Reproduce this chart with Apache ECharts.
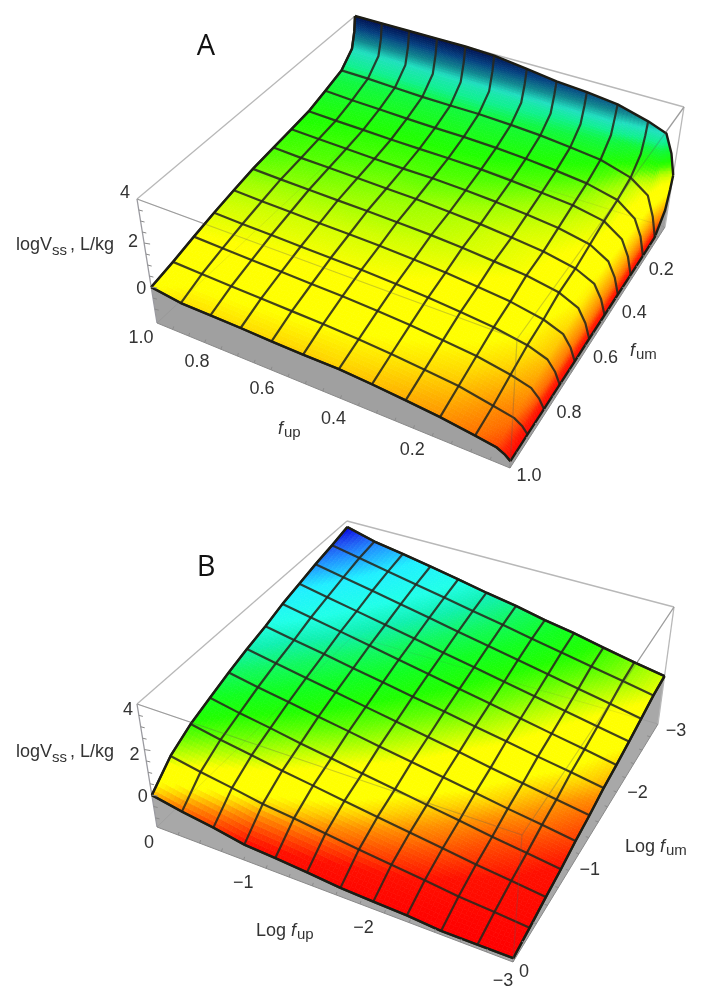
<!DOCTYPE html>
<html>
<head>
<meta charset="utf-8">
<style>
  html, body { margin: 0; padding: 0; background: #fff; }
  #chart { width: 704px; height: 1006px; }
</style>
</head>
<body>
<div id="chart"></div>
<script src="https://cdn.jsdelivr.net/npm/echarts@6/dist/echarts.min.js"></script>
<script>
// panel A: fup / fum grid, mesh is 11 cells, a few extra nodes for the steep edges
const fupA = [1, 0.91, 0.82, 0.73, 0.64, 0.55, 0.45, 0.36, 0.27, 0.18, 0.09, 0.036, 0.014, 0]
const fumA = [1, 0.91, 0.82, 0.73, 0.64, 0.55, 0.45, 0.36, 0.27, 0.18, 0.09, 0.027, 0.009, 0]
const meshColsA = [0, 1, 2, 3, 4, 5, 6, 7, 8, 9, 10]
const meshRowsA = [0, 1, 2, 3, 4, 5, 6, 7, 8, 9, 10]
// logVss, one row per fum, one column per fup
const logVssA = [
  [0, -0.2, -0.22, -0.25, -0.3, -0.33, -0.33, -0.42, -0.53, -0.66, -0.85, -0.98, -1.15, -1.33],
  [0.22, 0.17, 0.13, 0.1, 0.06, 0.02, -0.05, -0.14, -0.26, -0.4, -0.67, -0.84, -1.06, -1.32],
  [0.48, 0.43, 0.39, 0.36, 0.32, 0.29, 0.22, 0.13, 0.01, -0.13, -0.39, -0.62, -0.95, -1.32],
  [0.72, 0.67, 0.64, 0.6, 0.57, 0.54, 0.47, 0.38, 0.27, 0.13, -0.12, -0.42, -0.84, -1.31],
  [0.92, 0.87, 0.83, 0.79, 0.76, 0.72, 0.65, 0.56, 0.43, 0.29, 0.02, -0.31, -0.78, -1.31],
  [1.11, 1.06, 1.03, 0.99, 0.96, 0.92, 0.86, 0.77, 0.65, 0.52, 0.26, -0.13, -0.68, -1.3],
  [1.24, 1.18, 1.15, 1.11, 1.07, 1.04, 0.96, 0.87, 0.74, 0.59, 0.31, -0.09, -0.66, -1.3],
  [1.35, 1.3, 1.26, 1.22, 1.19, 1.18, 1.12, 1.04, 0.92, 0.78, 0.5, 0.02, -0.59, -1.3],
  [1.47, 1.42, 1.39, 1.35, 1.33, 1.32, 1.28, 1.2, 1.09, 0.97, 0.7, 0.15, -0.52, -1.3],
  [1.73, 1.67, 1.63, 1.59, 1.56, 1.55, 1.5, 1.42, 1.3, 1.15, 0.83, 0.23, -0.47, -1.3],
  [2.02, 2, 1.95, 1.9, 1.88, 1.88, 1.82, 1.74, 1.6, 1.45, 1.05, 0.48, -0.4, -1.28],
  [2.6, 2.6, 2.55, 2.5, 2.5, 2.45, 2.35, 2.25, 2.15, 2.05, 1.6, 1.4, 0.3, -0.6],
  [3.3, 3.3, 3.3, 3.3, 3.3, 3.25, 3.1, 3, 2.9, 2.8, 2.3, 2.2, 1.3, 0.2],
  [4, 4, 4, 4, 4, 3.95, 3.75, 3.55, 3.45, 3.28, 2.9, 2.59, 1.75, 0.8]
]

// panel B: log fup / log fum grid
const logFupB = [0, -0.27, -0.55, -0.82, -1.09, -1.36, -1.64, -1.91, -2.18, -2.45, -2.73, -3]
const logFumB = [0, -0.27, -0.55, -0.82, -1.09, -1.36, -1.64, -1.91, -2.18, -2.45, -2.73, -3]
const meshColsB = [0, 1, 2, 3, 4, 5, 6, 7, 8, 9, 10, 11]
const meshRowsB = [0, 1, 2, 3, 4, 5, 6, 7, 8, 9, 10, 11]
const logVssB = [
  [0, -0.25, -0.45, -0.7, -0.78, -0.89, -1.02, -1.08, -1.13, -1.24, -1.24, -1.24],
  [0.83, 0.58, 0.36, 0.13, -0.02, -0.19, -0.37, -0.51, -0.66, -0.83, -0.94, -1.06],
  [1.35, 1.09, 0.87, 0.64, 0.45, 0.25, 0.05, -0.14, -0.32, -0.52, -0.68, -0.85],
  [1.69, 1.43, 1.21, 0.97, 0.76, 0.54, 0.33, 0.12, -0.08, -0.3, -0.48, -0.68],
  [2.02, 1.77, 1.54, 1.31, 1.09, 0.86, 0.64, 0.42, 0.2, -0.02, -0.23, -0.44],
  [2.31, 2.06, 1.82, 1.59, 1.35, 1.12, 0.88, 0.65, 0.41, 0.18, -0.05, -0.27],
  [2.56, 2.32, 2.09, 1.85, 1.62, 1.38, 1.15, 0.91, 0.68, 0.44, 0.21, -0.03],
  [2.86, 2.61, 2.36, 2.11, 1.86, 1.61, 1.36, 1.11, 0.86, 0.61, 0.36, 0.11],
  [3.08, 2.83, 2.57, 2.32, 2.07, 1.81, 1.56, 1.3, 1.05, 0.8, 0.54, 0.29],
  [3.31, 3.05, 2.8, 2.54, 2.29, 2.03, 1.77, 1.52, 1.26, 1, 0.75, 0.49],
  [3.5, 3.25, 2.99, 2.74, 2.49, 2.23, 1.98, 1.72, 1.47, 1.22, 0.96, 0.71],
  [3.72, 3.37, 3.14, 2.9, 2.65, 2.38, 2.14, 1.85, 1.62, 1.33, 1.05, 0.81]
]

// tick labels
const zTicks = [4, 2, 0]
const fupTicksA = [1.0, 0.8, 0.6, 0.4, 0.2]
const fumTicksA = [1.0, 0.8, 0.6, 0.4, 0.2]
const fupTicksB = [0, -1, -2, -3]
const fumTicksB = [0, -1, -2, -3]

// colour by height
const colorZA = [-1.33, -1.1, -0.85, -0.5, -0.25, 0, 0.5, 0.8, 1, 1.2, 1.4, 1.9, 2.2, 2.6, 3, 3.5, 4]
const colorsA = ['#ff0000', '#ff2000', '#ff7000', '#ffb000', '#ffdc00', '#ffff00', '#ffff00', '#d0ff00', '#a0ff00', '#50ff00', '#20ff00', '#10f840', '#10f090', '#20e0c0', '#108890', '#054080', '#001050']
const colorZB = [-1.24, -0.65, -0.35, -0.1, 0.08, 0.25, 0.65, 0.9, 1.15, 1.4, 1.7, 2.02, 2.31, 2.6, 3, 3.31, 3.5, 3.72]
const colorsB = ['#ff0000', '#ff1000', '#ff5000', '#ff9000', '#ffd000', '#ffff00', '#ffff00', '#b0ff00', '#60ff00', '#20ff00', '#10ff20', '#10f860', '#10f0b0', '#20ffe8', '#20f0ff', '#2090ff', '#2050f0', '#0000e0']

const textColor = '#333'
const labelFont = 'Liberation Sans'

// box corners of each panel on the page, order: left, front, right, back
const panelA = {
  base: [[157, 323], [510, 468], [665, 227], [362, 131]],
  top: [[137, 199], [517, 339], [684, 107], [355, 16]],
  zMin: -1.63, zMax: 4,
  cols: fupA.map(f => 1 - f), rows: fumA.map(f => 1 - f),
  values: logVssA, meshCols: meshColsA, meshRows: meshRowsA,
  colorZ: colorZA, colors: colorsA, wall: '#a0a0a0',
  zTickOffset: [[-12, -6], [-11, -1], [-10, 2]],
  uTicks: fupTicksA.map(f => ({ text: f.toFixed(1), u: 1 - f })),
  vTicks: fumTicksA.map(f => ({ text: f.toFixed(1), v: 1 - f })),
  uOffset: [[-16, 15], [-24, 13], [-26, 12], [-25, 13], [-20, 14]],
  vOffset: [[19, 8], [22, 2], [25, 0], [23, 2], [22, 3]],
  uMinor: 20, vMinor: 20,
  letter: { text: 'A', x: 206, y: 47 },
  parts: [
    { text: 'logV', x: 16, y: 245, size: 18 },
    { text: 'ss', x: 52, y: 251, size: 15 },
    { text: ', L/kg', x: 70, y: 245, size: 18 },
    { text: 'f', x: 278, y: 429, size: 18, italic: true },
    { text: 'up', x: 284, y: 433, size: 15 },
    { text: 'f', x: 630, y: 351, size: 18, italic: true },
    { text: 'um', x: 636, y: 355, size: 15 }
  ]
}
const panelB = {
  base: [[157, 827], [513, 962], [658, 724], [353, 636]],
  top: [[137, 704], [522, 835], [674, 607], [347, 521]],
  zMin: -1.4, zMax: 4,
  cols: logFupB.map(f => -f / 3), rows: logFumB.map(f => -f / 3),
  values: logVssB, meshCols: meshColsB, meshRows: meshRowsB,
  colorZ: colorZB, colors: colorsB, wall: '#a8a8a8',
  zTickOffset: [[-9, 6], [-10, 5], [-9, 2]],
  uTicks: fupTicksB.map(f => ({ text: f === 0 ? '0' : '\u2212' + (-f), u: -f / 3 })),
  vTicks: fumTicksB.map(f => ({ text: f === 0 ? '0' : '\u2212' + (-f), v: -f / 3 })),
  uOffset: [[-8, 16], [-23, 15], [-21, 15], [-10, 19]],
  vOffset: [[11, 10], [21, 0], [21, 1], [18, 7]],
  uMinor: 15, vMinor: 15,
  letter: { text: 'B', x: 206, y: 568 },
  parts: [
    { text: 'logV', x: 16, y: 752, size: 18 },
    { text: 'ss', x: 52, y: 758, size: 15 },
    { text: ', L/kg', x: 70, y: 752, size: 18 },
    { text: 'Log ', x: 256, y: 931, size: 18 },
    { text: 'f', x: 291, y: 931, size: 18, italic: true },
    { text: 'up', x: 297, y: 935, size: 15 },
    { text: 'Log ', x: 625, y: 847, size: 18 },
    { text: 'f', x: 660, y: 847, size: 18, italic: true },
    { text: 'um', x: 666, y: 851, size: 15 }
  ]
}

// maps the unit square onto a quad, so spacing keeps the perspective of the box
function homography(q) {
  const [p0, p1, p2, p3] = q
  const sx = p0[0] - p1[0] + p2[0] - p3[0]
  const sy = p0[1] - p1[1] + p2[1] - p3[1]
  const dx1 = p1[0] - p2[0], dx2 = p3[0] - p2[0]
  const dy1 = p1[1] - p2[1], dy2 = p3[1] - p2[1]
  const den = dx1 * dy2 - dx2 * dy1
  const g = (sx * dy2 - dx2 * sy) / den
  const h = (dx1 * sy - sx * dy1) / den
  const a = p1[0] - p0[0] + g * p1[0], b = p3[0] - p0[0] + h * p3[0]
  const d = p1[1] - p0[1] + g * p1[1], e = p3[1] - p0[1] + h * p3[1]
  return (u, v) => {
    const w = g * u + h * v + 1
    return [(a * u + b * v + p0[0]) / w, (d * u + e * v + p0[1]) / w]
  }
}

function makeProject(p) {
  const lo = homography(p.base)
  const hi = homography(p.top)
  return (u, v, z) => {
    const t = (z - p.zMin) / (p.zMax - p.zMin)
    const a = lo(u, v), b = hi(u, v)
    return [a[0] + (b[0] - a[0]) * t, a[1] + (b[1] - a[1]) * t]
  }
}

function colorOf(p, z) {
  const zs = p.colorZ
  if (z <= zs[0]) return p.colors[0]
  for (let k = 1; k < zs.length; k++) {
    if (z <= zs[k]) {
      return echarts.color.lerp((z - zs[k - 1]) / (zs[k] - zs[k - 1]), [p.colors[k - 1], p.colors[k]])
    }
  }
  return p.colors[p.colors.length - 1]
}

const SUB = 8

function panelSeries(p) {
  const project = makeProject(p)
  const lastCol = p.cols.length - 1
  const lastRow = p.rows.length - 1
  const node = (i, j) => project(p.cols[i], p.rows[j], p.values[j][i])

  const cells = []
  for (let j = 0; j < lastRow; j++) {
    for (let i = 0; i < lastCol; i++) cells.push([i, j])
  }
  const series = []

  // grey walls under the surface and the box, behind everything else
  series.push({
    type: 'custom', coordinateSystem: 'cartesian2d', silent: true, clip: false, z: 2,
    data: [[0]],
    renderItem: (params, api) => {
      const c = pt => api.coord(pt)
      const line = (a, b, color, w) => ({
        type: 'line', shape: { x1: c(a)[0], y1: c(a)[1], x2: c(b)[0], y2: c(b)[1] },
        style: { stroke: color, lineWidth: w }
      })
      const front = []
      for (let i = 0; i <= lastCol; i++) front.push(c(node(i, 0)))
      front.push(c(p.base[1]), c(p.base[0]))
      const right = []
      for (let j = 0; j <= lastRow; j++) right.push(c(node(lastCol, j)))
      right.push(c(p.base[2]), c(p.base[1]))
      const kids = [
        { type: 'polygon', shape: { points: front }, style: { fill: p.wall } },
        { type: 'polygon', shape: { points: right }, style: { fill: p.wall } }
      ]
      const boxColor = '#b8b8b8'
      kids.push(line(p.top[0], p.top[3], boxColor, 1.3))
      kids.push(line(p.top[3], p.top[2], boxColor, 1.3))
      kids.push(line(p.top[2], p.base[2], boxColor, 1.3))
      kids.push(line(p.top[0], p.base[0], '#9a9aa0', 1.3))
      kids.push(line(p.top[0], p.top[1], boxColor, 1.3))
      kids.push(line(p.top[1], p.top[2], boxColor, 1.3))
      kids.push(line(p.base[0], p.base[1], '#8a8a8a', 1))
      kids.push(line(p.base[1], p.base[2], '#8a8a8a', 1))
      return { type: 'group', children: kids }
    }
  })

  // surface, every cell is shaded in small pieces by height
  series.push({
    type: 'custom', coordinateSystem: 'cartesian2d', silent: true, clip: false, z: 3,
    data: cells,
    renderItem: (params, api) => {
      const i = api.value(0), j = api.value(1)
      const u0 = p.cols[i], u1 = p.cols[i + 1]
      const v0 = p.rows[j], v1 = p.rows[j + 1]
      const z00 = p.values[j][i], z10 = p.values[j][i + 1]
      const z01 = p.values[j + 1][i], z11 = p.values[j + 1][i + 1]
      const at = (s, t) => {
        const z = z00 * (1 - s) * (1 - t) + z10 * s * (1 - t) + z01 * (1 - s) * t + z11 * s * t
        return { z, pt: api.coord(project(u0 + (u1 - u0) * s, v0 + (v1 - v0) * t, z)) }
      }
      const kids = []
      for (let a = 0; a < SUB; a++) {
        for (let b = 0; b < SUB; b++) {
          const s0 = a / SUB, s1 = (a + 1) / SUB, t0 = b / SUB, t1 = (b + 1) / SUB
          const col = colorOf(p, at((s0 + s1) / 2, (t0 + t1) / 2).z)
          kids.push({
            type: 'polygon',
            shape: { points: [at(s0, t0).pt, at(s1, t0).pt, at(s1, t1).pt, at(s0, t1).pt] },
            style: { fill: col, stroke: col, lineWidth: 0.7 }
          })
        }
      }
      return { type: 'group', children: kids }
    }
  })

  // mesh lines and the see-through part of the box
  series.push({
    type: 'custom', coordinateSystem: 'cartesian2d', silent: true, clip: false, z: 4,
    data: [[0]],
    renderItem: (params, api) => {
      const kids = []
      const poly = (pts, color, w) => kids.push({
        type: 'polyline', shape: { points: pts.map(q => api.coord(q)) },
        style: { fill: null, stroke: color, lineWidth: w, lineJoin: 'round' }
      })
      const colLine = i => p.rows.map((_, j) => node(i, j))
      const rowLine = j => p.cols.map((_, i) => node(i, j))
      p.meshCols.forEach(i => poly(colLine(i), 'rgba(40,40,30,0.88)', 2.2))
      p.meshRows.forEach(j => poly(rowLine(j), 'rgba(40,40,30,0.88)', 2.2))
      poly(rowLine(0), '#1c1c14', 2.4)
      poly(rowLine(lastRow), '#1c1c14', 2.4)
      poly(colLine(0), '#1c1c14', 2.4)
      poly(colLine(lastCol), '#1c1c14', 2.4)
      const ghost = 'rgba(90,90,90,0.3)'
      poly([p.top[0], p.top[1]], ghost, 1.2)
      poly([p.top[1], p.top[2]], ghost, 1.2)
      poly([p.top[1], p.base[1]], ghost, 1.2)
      poly([p.base[0], p.base[3]], 'rgba(90,90,90,0.12)', 1)
      poly([p.base[3], p.base[2]], 'rgba(90,90,90,0.12)', 1)
      return { type: 'group', children: kids }
    }
  })

  // ticks and labels
  series.push({
    type: 'custom', coordinateSystem: 'cartesian2d', silent: true, clip: false, z: 5,
    data: [[0]],
    renderItem: (params, api) => {
      const kids = []
      const text = (str, x, y, size, opts) => {
        const c = api.coord([x, y])
        kids.push({
          type: 'text', x: c[0], y: c[1],
          style: Object.assign({
            text: str, fontSize: size, fontFamily: labelFont, fill: textColor,
            align: 'center', verticalAlign: 'middle'
          }, opts || {})
        })
      }
      const tick = (a, dx, dy) => {
        const c = api.coord(a)
        kids.push({
          type: 'line', shape: { x1: c[0], y1: c[1], x2: c[0] + dx, y2: c[1] + dy },
          style: { stroke: '#8a8a8a', lineWidth: 1 }
        })
      }
      zTicks.forEach((z, k) => {
        const q = project(0, 0, z)
        text(String(z), q[0] + p.zTickOffset[k][0], q[1] + p.zTickOffset[k][1], 18)
      })
      for (let z = -1; z <= 3.5; z += 0.5) tick(project(0, 0, z), z % 2 === 0 ? 6 : 4, 1)
      p.uTicks.forEach((t, k) => {
        const q = project(t.u, 0, p.zMin)
        text(t.text, q[0] + p.uOffset[k][0], q[1] + p.uOffset[k][1], 18)
      })
      p.vTicks.forEach((t, k) => {
        const q = project(1, t.v, p.zMin)
        text(t.text, q[0] + p.vOffset[k][0], q[1] + p.vOffset[k][1], 18)
      })
      for (let k = 1; k < p.uMinor; k++) tick(project(k / p.uMinor, 0, p.zMin), 1, -3)
      for (let k = 1; k < p.vMinor; k++) tick(project(1, k / p.vMinor, p.zMin), -3, -1)
      p.parts.forEach(t => text(t.text, t.x, t.y, t.size, {
        align: 'left', fontStyle: t.italic ? 'italic' : 'normal'
      }))
      text(p.letter.text, p.letter.x, p.letter.y, 29, { fontFamily: 'Open Sans', fill: '#111' })
      return { type: 'group', children: kids }
    }
  })
  return series
}

const chart = echarts.init(document.getElementById('chart'), null, { renderer: 'canvas' })
chart.setOption({
  animation: false,
  backgroundColor: '#fff',
  grid: { left: 0, right: 0, top: 0, bottom: 0 },
  xAxis: { type: 'value', min: 0, max: 704, show: false },
  yAxis: { type: 'value', min: 0, max: 1006, inverse: true, show: false },
  series: panelSeries(panelA).concat(panelSeries(panelB))
})
</script>
</body>
</html>
